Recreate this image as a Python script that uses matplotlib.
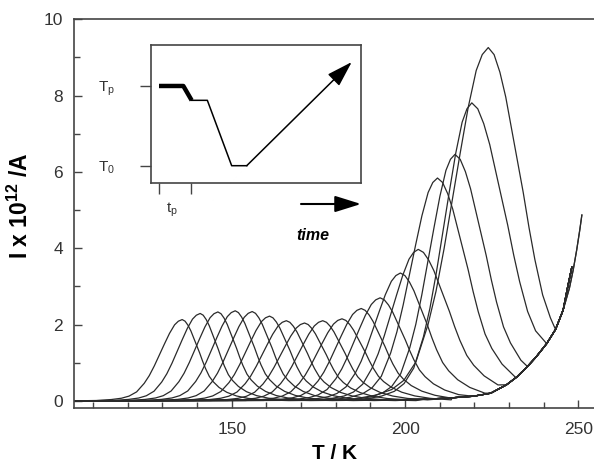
import matplotlib
matplotlib.use('Agg')
import matplotlib.pyplot as plt
import numpy as np

plt.rcParams['font.family'] = ['Liberation Sans', 'DejaVu Sans']
plt.rcParams['mathtext.fontset'] = 'custom'
plt.rcParams['mathtext.rm'] = 'Liberation Sans'
plt.rcParams['mathtext.bf'] = 'Liberation Sans:bold'
plt.rcParams['mathtext.it'] = 'Liberation Sans:italic'
plt.rcParams['mathtext.default'] = 'regular'

# peak position / height of each TSC curve
peak_T = [135.7, 140.9, 146.0, 151.0, 155.9, 160.9, 165.75, 171.0, 176.25,
          181.8, 187.35, 192.8, 198.65, 203.8, 209.35, 214.4, 219.25, 224.0]
peak_I = [2.13, 2.29, 2.33, 2.36, 2.34, 2.22, 2.10, 2.04, 2.10,
          2.15, 2.42, 2.70, 3.35, 3.97, 5.84, 6.46, 7.81, 9.26]
# half widths at half maximum (low-T side, high-T side)
left_hw = [7.3, 7.4, 7.5, 7.6, 7.7, 7.8, 7.9, 8.0, 8.1,
           8.2, 8.3, 8.5, 8.7, 8.9, 9.0, 8.7, 9.3, 11.6]
right_hw = [5.6, 5.8, 6.0, 6.2, 6.4, 6.6, 6.8, 7.0, 7.2,
            7.5, 7.6, 8.1, 8.7, 10.0, 9.8, 10.0, 11.5, 11.2]
# temperature where each curve runs into the common high-T rise
join_T = [205.5, 205.5, 205.5, 205.5, 205.5, 205.5, 205.5, 205.5, 213.6,
          213.6, 213.6, 219.65, 224.7, 229.25, 232.3, 235.3, 240.85, 243.4]

# peak shape read from the first (isolated) curve, offsets in half widths
prof_u = [-3.4, -2.8, -2.4, -2.1, -1.8, -1.5, -1.3, -1.1, -0.9, -0.7, -0.5,
          -0.3, -0.15, 0.0, 0.15, 0.3, 0.45, 0.6, 0.75, 0.9, 1.05, 1.2, 1.4,
          1.6, 1.9, 2.3, 2.8, 3.4, 4.2, 5.5]
prof_r = [0.004, 0.016, 0.032, 0.058, 0.11, 0.215, 0.31, 0.43, 0.565, 0.70,
          0.83, 0.935, 0.98, 1.0, 0.98, 0.93, 0.86, 0.77, 0.68, 0.59, 0.49,
          0.40, 0.30, 0.235, 0.165, 0.105, 0.06, 0.03, 0.012, 0.003]

# common rising background at high temperature
tail_T = [205.5, 213.6, 219.65, 224.7, 229.25, 232.3, 235.3, 237.8, 240.85,
          243.4, 245.6]
tail_I = [0.04, 0.08, 0.12, 0.2, 0.42, 0.63, 0.9, 1.15, 1.5, 1.87, 2.38]
long_T = [247.4, 248.5, 249.5, 250.4, 251.0]
long_I = [2.95, 3.43, 3.95, 4.48, 4.87]
short_T = [246.9, 248.1]
short_I = [2.98, 3.5]
long_curves = [16, 17]

# inset: thermal cycle (time axis: tick 0 and t_p = 1; temperature T0 = 0, Tp = 1)
cyc_hold_t = [0.0, 0.76, 1.02]
cyc_hold_T = [1.0, 1.0, 0.82]
cyc_t = [1.02, 1.51, 2.27, 2.74]
cyc_T = [0.82, 0.82, 0.0, 0.0]
ramp_end = (6.02, 1.30)

fig = plt.figure(figsize=(5.94, 4.70), dpi=100)
ax = fig.add_axes([74 / 594, 1 - 407.7 / 470, 520 / 594, 388.4 / 470])

u = np.array(prof_u)
r = np.array(prof_r)
tT = np.array(tail_T)
tI = np.array(tail_I)
for i in range(len(peak_T)):
    hw = np.where(u < 0, left_hw[i], right_hw[i])
    T = peak_T[i] + u * hw
    I = peak_I[i] * r
    m = T < join_T[i]
    k = tT >= join_T[i]
    if i in long_curves:
        eT, eI = long_T, long_I
    else:
        eT, eI = short_T, short_I
    x = np.concatenate([[104.5], T[m], tT[k], eT])
    y = np.concatenate([[0.0], I[m], tI[k], eI])
    ax.plot(x, y, color='#2a2a2a', lw=0.9)

ax.set_xlim(104.5, 254.5)
ax.set_ylim(-0.18, 10)
ax.set_xticks([150, 200, 250])
ax.set_xticks(np.arange(110, 251, 10), minor=True)
ax.set_yticks(np.arange(0, 11, 2))
ax.set_yticks(np.arange(1, 10, 2), minor=True)
ax.tick_params(which='both', direction='in', width=1, color='#444444',
               labelcolor='#333333', labelsize=12.5)
ax.tick_params(which='major', length=6)
ax.tick_params(which='minor', length=4)
ax.tick_params(axis='x', pad=10)
ax.tick_params(axis='y', pad=8)
ax.spines['right'].set_visible(False)
for s in ['left', 'bottom', 'top']:
    ax.spines[s].set_linewidth(1.2)
    ax.spines[s].set_color('#444444')

ax.set_xlabel('T / K', fontweight='bold', size=15)
ax.set_ylabel(r'I x 10$^{\mathbf{12}}$ /A', fontweight='bold', size=16.5)
ax.xaxis.set_label_coords(0.5, -0.093)
ax.yaxis.set_label_coords(-0.079, 0.52)

# inset with the temperature programme
axi = fig.add_axes([151 / 594, 1 - 183 / 470, 210 / 594, 138 / 470])
axi.plot(cyc_hold_t, cyc_hold_T, color='black', lw=3.2, solid_capstyle='butt')
axi.plot(cyc_t, cyc_T, color='black', lw=1.1)
axi.annotate('', xy=ramp_end, xytext=(cyc_t[-1], cyc_T[-1]),
             arrowprops=dict(arrowstyle='-|>,head_length=0.8,head_width=0.25',
                             color='black', lw=1.1, mutation_scale=20,
                             shrinkA=0, shrinkB=0))
axi.set_xlim(-0.25, 6.31)
axi.set_ylim(-0.217, 1.514)
axi.set_xticks([0, 1])
axi.set_xticklabels(['', ''])
axi.set_yticks([0, 1])
axi.set_yticklabels([r'T$_0$', r'T$_p$'])
axi.tick_params(direction='out', length=8, width=1, color='#444444',
                labelcolor='#333333', labelsize=11, pad=18)
for s in axi.spines.values():
    s.set_linewidth(1.2)
    s.set_color('#444444')

fig.text(172 / 594, 1 - 210 / 470, r't$_p$', size=11, color='#333333',
         ha='center', va='center')
fig.text(313 / 594, 1 - 235 / 470, 'time', size=11.5, fontweight='bold',
         fontstyle='italic', ha='center', va='center')
ax.annotate('', xy=(361 / 594, 1 - 204 / 470), xytext=(301 / 594, 1 - 204 / 470),
            xycoords='figure fraction', textcoords='figure fraction',
            arrowprops=dict(arrowstyle='-|>,head_length=0.8,head_width=0.25',
                            color='black', lw=1.5, mutation_scale=20,
                            shrinkA=0, shrinkB=0))

fig.savefig('out.png', dpi=100)
